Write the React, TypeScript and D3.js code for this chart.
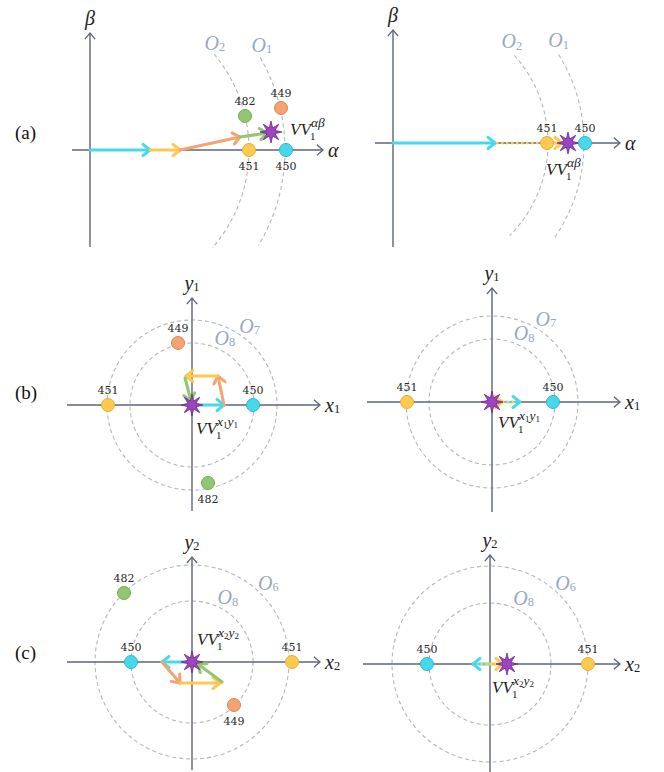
import React from 'react';
import * as d3 from 'd3';

const W = 664;
const H = 772;

type Pid = 'aL' | 'aR' | 'bL' | 'bR' | 'cL' | 'cR';

// ---- data (diagram units, y up, origin = axis crossing of each panel) ----
const panelIds: Pid[] = ['aL', 'aR', 'bL', 'bR', 'cL', 'cR'];

const axisNames: Record<Pid, { x: [string, string]; y: [string, string] }> = {
  aL: { x: ['α', ''], y: ['β', ''] },
  aR: { x: ['α', ''], y: ['β', ''] },
  bL: { x: ['x', '1'], y: ['y', '1'] },
  bR: { x: ['x', '1'], y: ['y', '1'] },
  cL: { x: ['x', '2'], y: ['y', '2'] },
  cR: { x: ['x', '2'], y: ['y', '2'] },
};

const rowLabels = ['(a)', '(b)', '(c)'];

const rings = [
  { panel: 'aL', sub: '2', cx: 10, r: 149, from: 40, to: -41, labelAt: 43 },
  { panel: 'aL', sub: '1', cx: 10, r: 185, from: 30, to: -31, labelAt: 33 },
  { panel: 'aR', sub: '2', cx: 24, r: 131, from: 42, to: -45, labelAt: 47 },
  { panel: 'aR', sub: '1', cx: 24, r: 167, from: 32, to: -35, labelAt: 36 },
  { panel: 'bL', sub: '7', cx: 0, r: 85, from: 180, to: -180, labelAt: 54 },
  { panel: 'bL', sub: '8', cx: 0, r: 62, from: 180, to: -180, labelAt: 64 },
  { panel: 'bR', sub: '7', cx: 0, r: 86, from: 180, to: -180, labelAt: 57 },
  { panel: 'bR', sub: '8', cx: 0, r: 63, from: 180, to: -180, labelAt: 65 },
  { panel: 'cL', sub: '6', cx: 0, r: 97, from: 180, to: -180, labelAt: 46 },
  { panel: 'cL', sub: '8', cx: 0, r: 61, from: 180, to: -180, labelAt: 61 },
  { panel: 'cR', sub: '6', cx: 0, r: 98, from: 180, to: -180, labelAt: 47 },
  { panel: 'cR', sub: '8', cx: 0, r: 61, from: 180, to: -180, labelAt: 63 },
];

const points = [
  { panel: 'aL', id: '482', x: 155, y: 34, hue: 'green', tag: 'above' },
  { panel: 'aL', id: '449', x: 191, y: 42, hue: 'orange', tag: 'above' },
  { panel: 'aL', id: '451', x: 159, y: 0, hue: 'yellow', tag: 'below' },
  { panel: 'aL', id: '450', x: 196, y: 0, hue: 'cyan', tag: 'below' },
  { panel: 'aR', id: '451', x: 154, y: 0, hue: 'yellow', tag: 'above' },
  { panel: 'aR', id: '450', x: 192, y: 0, hue: 'cyan', tag: 'above' },
  { panel: 'bL', id: '449', x: -14, y: 62, hue: 'orange', tag: 'above' },
  { panel: 'bL', id: '451', x: -84, y: 0, hue: 'yellow', tag: 'above' },
  { panel: 'bL', id: '450', x: 61, y: 0, hue: 'cyan', tag: 'above' },
  { panel: 'bL', id: '482', x: 16, y: -78, hue: 'green', tag: 'below' },
  { panel: 'bR', id: '451', x: -85, y: 0, hue: 'yellow', tag: 'above' },
  { panel: 'bR', id: '450', x: 61, y: 0, hue: 'cyan', tag: 'above' },
  { panel: 'cL', id: '482', x: -68, y: 69, hue: 'green', tag: 'above' },
  { panel: 'cL', id: '450', x: -61, y: 0, hue: 'cyan', tag: 'above' },
  { panel: 'cL', id: '451', x: 100, y: 0, hue: 'yellow', tag: 'above' },
  { panel: 'cL', id: '449', x: 42, y: -43, hue: 'orange', tag: 'below' },
  { panel: 'cR', id: '450', x: -63, y: 0, hue: 'cyan', tag: 'above' },
  { panel: 'cR', id: '451', x: 98, y: 0, hue: 'yellow', tag: 'above' },
];

const stars = [
  { panel: 'aL', x: 181, y: 18, sup: 'αβ' },
  { panel: 'aR', x: 175, y: 0, sup: 'αβ' },
  { panel: 'bL', x: 0, y: 0, sup: '1' },
  { panel: 'bR', x: 0, y: 0, sup: '1' },
  { panel: 'cL', x: 0, y: 0, sup: '2' },
  { panel: 'cR', x: 17, y: 0, sup: '2' },
];

// voltage vectors: [x1, y1, x2, y2]
const vectors = [
  { panel: 'aL', hue: 'cyan', v: [0, 0, 60, 0], dash: false, head: true },
  { panel: 'aL', hue: 'yellow', v: [60, 0, 90, 0], dash: false, head: true },
  { panel: 'aL', hue: 'orange', v: [90, 0, 150, 13], dash: false, head: true },
  { panel: 'aL', hue: 'green', v: [150, 13, 177, 17], dash: false, head: true },
  { panel: 'aR', hue: 'cyan', v: [0, 0, 102, 0], dash: false, head: true },
  { panel: 'aR', hue: 'yellow', v: [103, 0, 151, 0], dash: true, head: false },
  { panel: 'aR', hue: 'yellow', v: [156, 0, 169, 0], dash: false, head: true },
  { panel: 'bL', hue: 'cyan', v: [0, 0, 32, 0], dash: false, head: true },
  { panel: 'bL', hue: 'orange', v: [32, 0, 26, 29], dash: false, head: true },
  { panel: 'bL', hue: 'yellow', v: [26, 29, -6, 29], dash: false, head: true },
  { panel: 'bL', hue: 'green', v: [-7, 27, -1, 4], dash: false, head: true },
  { panel: 'bR', hue: 'cyan', v: [8, 0, 28, 0], dash: true, head: true },
  { panel: 'bR', hue: 'yellow', v: [10, 0, 25, 0], dash: true, head: false },
  { panel: 'bR', hue: 'yellow', v: [2, 0, 10, 0], dash: false, head: true },
  { panel: 'cL', hue: 'cyan', v: [0, 0, -30, 0], dash: false, head: true },
  { panel: 'cL', hue: 'orange', v: [-30, 0, -12, -21], dash: false, head: true },
  { panel: 'cL', hue: 'yellow', v: [-12, -21, 28, -21], dash: false, head: true },
  { panel: 'cL', hue: 'green', v: [30, -20, 6, -2], dash: false, head: true },
  { panel: 'cR', hue: 'cyan', v: [0, 0, -17, 0], dash: false, head: true },
  { panel: 'cR', hue: 'yellow', v: [-2, 0, -13, 0], dash: true, head: false },
  { panel: 'cR', hue: 'yellow', v: [0, 0, 13, 0], dash: false, head: true },
];

// ---- layout ----
const origins: Record<Pid, [number, number]> = {
  aL: [90, 150], aR: [393, 143], bL: [192, 405], bR: [492, 402], cL: [192, 662], cR: [490, 664],
};
const axisSpan: Record<Pid, { x: [number, number]; y: [number, number] }> = {
  aL: { x: [-18, 233], y: [-97, 117] },
  aR: { x: [-18, 227], y: [-104, 113] },
  bL: { x: [-125, 128], y: [-106, 107] },
  bR: { x: [-125, 128], y: [-110, 114] },
  cL: { x: [-125, 128], y: [-108, 105] },
  cR: { x: [-127, 130], y: [-108, 109] },
};
const vvOffset: Record<Pid, [number, number]> = {
  aL: [19, 3], aR: [-22, 32], bL: [4, 29], bR: [6, 26], cL: [5, -17], cR: [-15, 29],
};
const rowY = [139, 399, 659];

const hues: Record<string, [string, string]> = {
  cyan: ['#47d9eb', '#2db7cb'],
  yellow: ['#fdca4f', '#e6ae34'],
  orange: ['#f4a372', '#dc8556'],
  green: ['#93c671', '#75a955'],
};
const AXIS = '#5d6576';
const RING = '#b3b7bf';
const OLAB = '#9aa8c0';
const SERIF = "'Liberation Serif', 'DejaVu Serif', serif";
const NUMF = "'DejaVu Serif', serif";

const scalesFor = (p: Pid) => {
  const [ox, oy] = origins[p];
  const x = d3.scaleLinear().domain([0, 100]).range([ox, ox + 100]);
  const y = d3.scaleLinear().domain([0, 100]).range([oy, oy - 100]);
  return { x, y };
};

const chevron = (x1: number, y1: number, x2: number, y2: number, len: number, phi: number) => {
  const a = Math.atan2(y2 - y1, x2 - x1);
  const p = d3.path();
  p.moveTo(x2 - len * Math.cos(a - phi), y2 - len * Math.sin(a - phi));
  p.lineTo(x2, y2);
  p.lineTo(x2 - len * Math.cos(a + phi), y2 - len * Math.sin(a + phi));
  return p.toString();
};

const starPath = d3
  .lineRadial<number>()
  .angle((_, i) => (i * Math.PI) / 8)
  .radius((_, i) => (i % 2 === 0 ? 11 : 4.3))
  .curve(d3.curveLinearClosed)(d3.range(16));

const SubText: React.FC<{
  x: number; y: number; base: string; sub: string; size: number; fill: string;
  anchor?: string; italic?: boolean;
}> = ({ x, y, base, sub, size, fill, anchor = 'middle', italic = true }) => (
  <text x={x} y={y} fontFamily={SERIF} fontSize={size} fill={fill} textAnchor={anchor}
    fontStyle={italic ? 'italic' : 'normal'} dominantBaseline="central">
    {base}
    {sub && (
      <tspan fontSize={size * 0.62} fontStyle="normal" dy={size * 0.22}>{sub}</tspan>
    )}
  </text>
);

const Panel: React.FC<{ p: Pid }> = ({ p }) => {
  const { x, y } = scalesFor(p);
  const span = axisSpan[p];
  const names = axisNames[p];
  const x0 = x(span.x[0]), x1 = x(span.x[1]);
  const yb = y(span.y[0]), yt = y(span.y[1]);
  const ox = x(0), oy = y(0);

  const myRings = rings.filter(r => r.panel === p);
  const myPts = points.filter(d => d.panel === p);
  const myVec = vectors.filter(d => d.panel === p);
  const myStar = stars.filter(d => d.panel === p);

  return (
    <g>
      {/* rings */}
      {myRings.map((r, i) => {
        const cx = x(r.cx), cy = y(0);
        const rad = x(r.r) - x(0);
        const la = (r.labelAt * Math.PI) / 180;
        const lr = rad + (Math.abs(r.from) === 180 ? 13 : 8);
        let shape;
        if (Math.abs(r.from) === 180) {
          shape = <circle cx={cx} cy={cy} r={rad} fill="none" stroke={RING} strokeWidth={1.1} strokeDasharray="4 3" />;
        } else {
          const path = d3.path();
          path.arc(cx, cy, rad, (-r.from * Math.PI) / 180, (-r.to * Math.PI) / 180, false);
          shape = <path d={path.toString()} fill="none" stroke={RING} strokeWidth={1.1} strokeDasharray="4 3" />;
        }
        return (
          <g key={i}>
            {shape}
            <SubText x={cx + lr * Math.cos(la)} y={cy - lr * Math.sin(la)} base="O" sub={r.sub}
              size={20} fill={OLAB} />
          </g>
        );
      })}

      {/* axes */}
      <line x1={x0} y1={oy} x2={x1} y2={oy} stroke={AXIS} strokeWidth={1.4} />
      <line x1={ox} y1={yb} x2={ox} y2={yt} stroke={AXIS} strokeWidth={1.4} />
      <path d={chevron(x0, oy, x1, oy, 8, 0.7)} fill="none" stroke={AXIS} strokeWidth={1.3} />
      <path d={chevron(ox, yb, ox, yt, 8, 0.7)} fill="none" stroke={AXIS} strokeWidth={1.3} />
      <SubText x={x1 + 5} y={oy} base={names.x[0]} sub={names.x[1]} size={20} fill="#222" anchor="start" />
      <SubText x={ox} y={yt - 15} base={names.y[0]} sub={names.y[1]} size={20} fill="#222" />

      {/* vectors */}
      {myVec.map((d, i) => {
        const [a, b, c, e] = d.v;
        const col = hues[d.hue][0];
        return (
          <g key={i} stroke={col} fill="none" strokeLinecap="round" strokeLinejoin="round">
            <line x1={x(a)} y1={y(b)} x2={x(c)} y2={y(e)} strokeWidth={d.dash ? 2.6 : 3}
              strokeDasharray={d.dash ? '2.5 2.5' : undefined} strokeLinecap={d.dash ? 'butt' : 'round'} />
            {d.head && <path d={chevron(x(a), y(b), x(c), y(e), 9, 0.68)} strokeWidth={3} />}
          </g>
        );
      })}

      {/* stars */}
      {myStar.map((s, i) => {
        const sx = x(s.x), sy = y(s.y);
        const [dx, dy] = vvOffset[p];
        const lx = sx + dx, ly = sy + dy;
        return (
          <g key={i}>
            <path d={starPath || ''} transform={`translate(${sx},${sy})`} fill="#9b45c0" stroke="#6f2a8e" strokeWidth={0.8} />
            <text x={lx} y={ly} fontFamily={SERIF} fontSize={17} fontStyle="italic" fill="#222">VV</text>
            <text x={lx + 20} y={ly + 5} fontFamily={SERIF} fontSize={11} fill="#222">1</text>
            {s.sup === 'αβ' ? (
              <text x={lx + 21} y={ly - 8} fontFamily={SERIF} fontSize={13.5} fontStyle="italic" fill="#222">αβ</text>
            ) : (
              <text x={lx + 21} y={ly - 8} fontFamily={SERIF} fontSize={13.5} fontStyle="italic" fill="#222">
                x<tspan fontSize={9} fontStyle="normal" dy={2}>{s.sup}</tspan>
                <tspan dy={-2}>y</tspan>
                <tspan fontSize={9} fontStyle="normal" dy={2}>{s.sup}</tspan>
              </text>
            )}
          </g>
        );
      })}

      {/* points */}
      {myPts.map((d, i) => {
        const [fill, stroke] = hues[d.hue];
        const cx = x(d.x), cy = y(d.y);
        return (
          <g key={i}>
            <circle cx={cx} cy={cy} r={6.5} fill={fill} stroke={stroke} strokeWidth={1} />
            <text x={cx} y={d.tag === 'above' ? cy - 15 : cy + 16} textAnchor="middle"
              dominantBaseline="central" fontFamily={NUMF} fontSize={11} fill="#2a2a2a">{d.id}</text>
          </g>
        );
      })}
    </g>
  );
};

export default function App() {
  return (
    <svg width={W} height={H} viewBox={`0 0 ${W} ${H}`}
      style={{ position: 'absolute', left: 0, top: 0, background: '#fff' }}>
      {panelIds.map(p => <Panel key={p} p={p} />)}
      {rowLabels.map((t, i) => (
        <text key={t} x={15} y={rowY[i]} fontFamily={SERIF} fontSize={19} fill="#111">{t}</text>
      ))}
    </svg>
  );
}
